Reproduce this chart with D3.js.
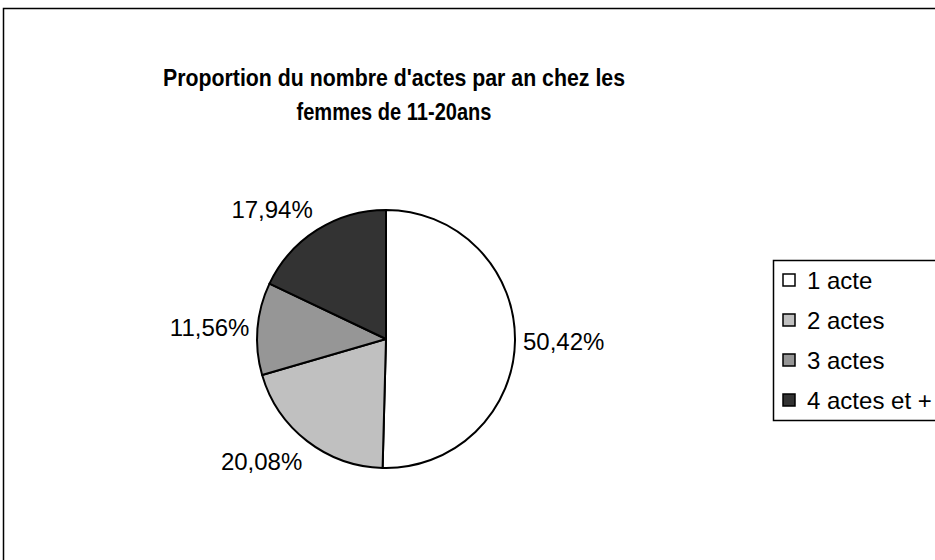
<!DOCTYPE html>
<html>
<head>
<meta charset="utf-8">
<script src="https://cdn.jsdelivr.net/npm/d3@7"></script>
<style>
  body { margin: 0; background: #fff; }
  text { font-family: "Liberation Sans", Arial, sans-serif; fill: #000; }
</style>
</head>
<body>
<svg id="chart" width="935" height="560"></svg>
<script>
var categories = ["1 acte", "2 actes", "3 actes", "4 actes et +"];
var values = [50.42, 20.08, 11.56, 17.94];
var labels = ["50,42%", "20,08%", "11,56%", "17,94%"];
var colors = ["#ffffff", "#c0c0c0", "#969696", "#333333"];
var titleLines = ["Proportion du nombre d'actes par an chez les", "femmes de 11-20ans"];

var svg = d3.select("#chart");

// outer frame (runs off the right and bottom edges)
svg.append("rect")
    .attr("x", 3.5).attr("y", 8.5)
    .attr("width", 1000).attr("height", 600)
    .attr("fill", "#fff")
    .attr("stroke", "#000")
    .attr("stroke-width", 1.5);

// title, the original font is a bit condensed so squeeze it
var titleWidths = [462, 195];
svg.append("g").selectAll("text")
    .data(titleLines)
    .enter().append("text")
    .attr("x", 394)
    .attr("y", function(d, i) { return 86 + i * 34; })
    .attr("text-anchor", "middle")
    .attr("textLength", function(d, i) { return titleWidths[i]; })
    .attr("lengthAdjust", "spacingAndGlyphs")
    .style("font-weight", "bold")
    .style("font-size", "24px")
    .text(function(d) { return d; });

// pie
var cx = 386, cy = 339, radius = 129;
var pie = d3.pie().sort(null).value(function(d) { return d; });
var arc = d3.arc().innerRadius(0).outerRadius(radius);
var arcs = pie(values);

var g = svg.append("g").attr("transform", "translate(" + cx + "," + cy + ")");

g.selectAll("path")
    .data(arcs)
    .enter().append("path")
    .attr("d", arc)
    .attr("fill", function(d, i) { return colors[i]; })
    .attr("stroke", "#000")
    .attr("stroke-width", 2)
    .attr("stroke-linejoin", "round");

// data labels outside the pie
var labelR = radius + 8;
g.selectAll("text.lbl")
    .data(arcs)
    .enter().append("text")
    .attr("class", "lbl")
    .style("font-size", "24px")
    .attr("text-anchor", function(d) {
        var a = (d.startAngle + d.endAngle) / 2;
        return Math.sin(a) >= 0 ? "start" : "end";
    })
    .attr("x", function(d) {
        var a = (d.startAngle + d.endAngle) / 2;
        return Math.sin(a) * labelR;
    })
    .attr("y", function(d) {
        var a = (d.startAngle + d.endAngle) / 2;
        var dy = -Math.cos(a);
        return dy * labelR + dy * 17 + 9;
    })
    .text(function(d, i) { return labels[i]; });

// legend
var legend = svg.append("g").attr("transform", "translate(773,260)");
legend.append("rect")
    .attr("x", 0.5).attr("y", 0.5)
    .attr("width", 300).attr("height", 160)
    .attr("fill", "#fff")
    .attr("stroke", "#000")
    .attr("stroke-width", 1.5);

var item = legend.selectAll("g.item")
    .data(categories)
    .enter().append("g")
    .attr("class", "item")
    .attr("transform", function(d, i) { return "translate(10," + (20 + i * 40) + ")"; });

item.append("rect")
    .attr("x", 0).attr("y", -6)
    .attr("width", 12).attr("height", 12)
    .attr("fill", function(d, i) { return colors[i]; })
    .attr("stroke", "#000")
    .attr("stroke-width", 1.5);

item.append("text")
    .attr("x", 24).attr("y", 9)
    .style("font-size", "24px")
    .text(function(d) { return d; });
</script>
</body>
</html>
